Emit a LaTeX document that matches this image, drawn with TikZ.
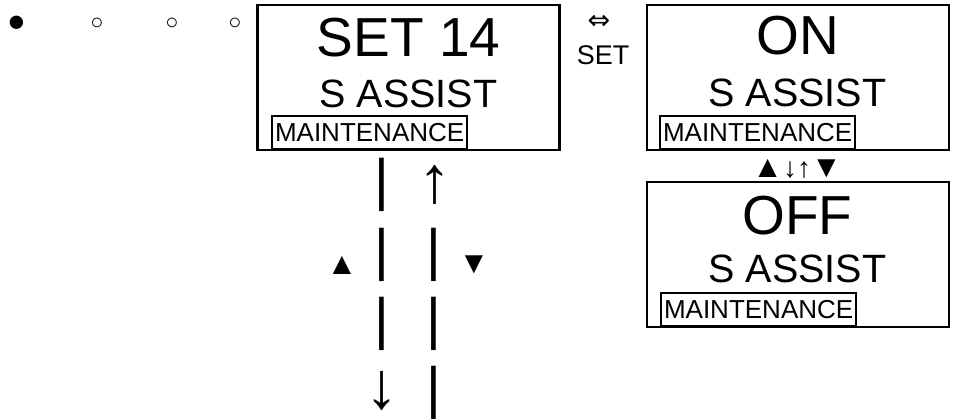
\documentclass[tikz,border=0pt]{standalone}
\usepackage{fontspec}
\setmainfont{Liberation Sans}
\newfontfamily\symfont{DejaVu Sans}
\newcommand{\trisz}{\fontsize{31}{33}\selectfont}
\begin{document}
\begin{tikzpicture}[x=1pt,y=-1pt,
  lcd/.style={draw, line width=2.6pt, minimum width=302pt, minimum height=145pt, inner sep=0pt},
  mbox/.style={draw, line width=2pt, inner xsep=3pt, inner ysep=2pt, text height=24pt, text depth=5pt,
    font=\fontsize{26}{28}\selectfont, anchor=south west},
  big/.style={font=\fontsize{55}{60}\selectfont, anchor=base},
  mid/.style={font=\fontsize{39.5}{44}\selectfont, anchor=base},
  colg/.style={font=\fontsize{57}{60}\selectfont, inner sep=0pt},
  colarr/.style={font=\fontsize{66}{70}\selectfont, inner sep=0pt},
  tri/.style={font=\trisz, inner sep=0pt},
  ud/.style={font=\fontsize{28}{30}\selectfont, inner sep=0pt}]
\useasboundingbox (0,0) rectangle (953,419);
% status dots
\node[font=\fontsize{31}{33}\selectfont, inner sep=0pt] (d1) at (16.5,23.5) {●};
\node[font=\fontsize{22}{24}\selectfont, inner sep=0pt] (d2) at (97,23.5) {○};
\node[font=\fontsize{22}{24}\selectfont, inner sep=0pt] (d3) at (172,23.5) {○};
\node[font=\fontsize{22}{24}\selectfont, inner sep=0pt] (d4) at (235,23.5) {○};
% box 1
\node[lcd] (b1) at (408.5,77.5) {};
\node[big] (t1) at (408.5,57) {SET 14};
\node[mid] (s1) at (408.5,108) {S ASSIST};
\node[mbox] (m1) at (271,150) {MAINTENANCE};
% SET toggle
\node[font=\symfont\fontsize{27}{29}\selectfont, inner sep=0pt] (sw) at (599,22.5) {⇔};
\node[font=\fontsize{27}{29}\selectfont, anchor=base] (setl) at (603,65) {SET};
% box 2
\node[lcd] (b2) at (798,77.5) {};
\node[big] (t2) at (797.5,55) {ON};
\node[mid] (s2) at (797.5,107) {S ASSIST};
\node[mbox] (m2) at (659,150) {MAINTENANCE};
% up/down between box 2 and 3
\node[ud] (udl) at (797,170.5) {\smash{\trisz▲}↓↑\smash{\trisz▼}};
% box 3
\node[lcd] (b3) at (798,254.5) {};
\node[big] (t3) at (797.5,235) {OFF};
\node[mid] (s3) at (797.5,283) {S ASSIST};
\node[mbox] (m3) at (660,327) {MAINTENANCE};
% columns below box 1
\foreach \y [count=\i] in {184.5,255,324}
  \node[colg] (l\i) at (382,\y) {|};
\node[colarr] (l4) at (382,391) {↓};
\node[colarr] (r1) at (435,184.5) {↑};
\foreach \y [count=\i from 2] in {255,324,393}
  \node[colg] (r\i) at (434,\y) {|};
\node[tri] (up) at (342,265) {▲};
\node[tri] (dn) at (474,265) {▼};
\end{tikzpicture}
\end{document}
